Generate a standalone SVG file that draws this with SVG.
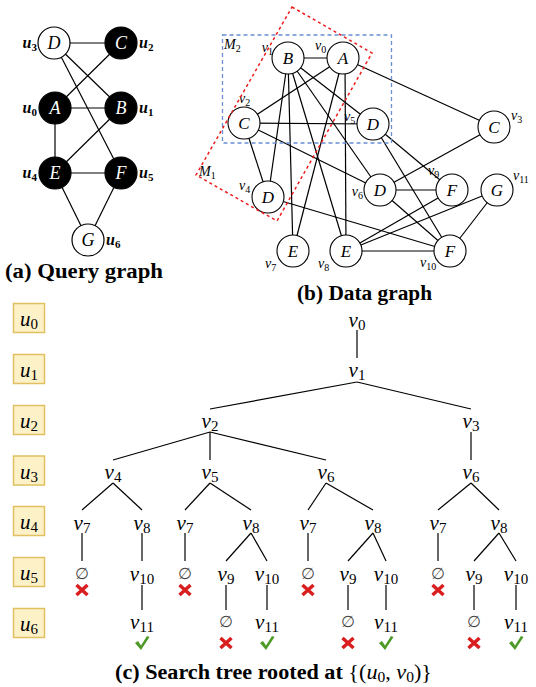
<svg xmlns="http://www.w3.org/2000/svg" width="536" height="687" viewBox="0 0 536 687">
<style>
.bg{fill:#fff}
.e{stroke:#000;stroke-width:1.2;fill:none}
.qb{fill:#000;stroke:#000;stroke-width:1.2}
.qw{fill:#fff;stroke:#000;stroke-width:1.2}
.dn{fill:#fff;stroke:#000;stroke-width:1.1}
.m{font-family:"Liberation Serif","Times New Roman",serif;font-style:italic}
.nl{font-size:18px;text-anchor:middle}
.ql{font-size:16px;font-weight:bold}
.dl{font-size:17px;text-anchor:middle}
.vl{font-size:14px}
.tl{font-size:21px;text-anchor:middle}
.bl{font-size:21px;text-anchor:middle}
.s{font-style:normal}
.cap{font-family:"Liberation Serif","Times New Roman",serif;font-weight:bold;font-size:20px}
.box{fill:#fdf1c8;stroke:#e1c062;stroke-width:1.5}
.emp{font-family:"DejaVu Serif","DejaVu Sans",serif;font-size:16px;text-anchor:middle;fill:#444}
.x{stroke:#d81e1e;stroke-width:3.5;fill:none}
.ck{fill:#4e9a26}
</style>
<defs>
<g id="xm"><path class="x" d="M-5.5,-5 L5.5,5 M-5.5,5 L5.5,-5"/></g>
<path id="ckm" class="ck" d="M-7,0 L-4,-2 L-1,2.5 L5,-7 L7.5,-6 L-1,7 Z"/>
</defs>
<rect class="bg" x="0" y="0" width="536" height="687"/>

<!-- ===== (a) Query graph ===== -->
<g id="query-edges">
<line class="e" x1="54" y1="43" x2="121" y2="43"/>
<line class="e" x1="54" y1="43" x2="121" y2="108"/>
<line class="e" x1="54" y1="43" x2="121" y2="173"/>
<line class="e" x1="121" y1="43" x2="55" y2="108"/>
<line class="e" x1="55" y1="108" x2="121" y2="108"/>
<line class="e" x1="55" y1="108" x2="55" y2="173"/>
<line class="e" x1="121" y1="108" x2="55" y2="173"/>
<line class="e" x1="55" y1="173" x2="121" y2="173"/>
<line class="e" x1="55" y1="173" x2="88" y2="240"/>
<line class="e" x1="121" y1="173" x2="88" y2="240"/>
</g>
<g id="q-u3"><circle class="qw" cx="54" cy="43" r="16"/><text class="m nl" x="54" y="49">D</text><text class="m ql" x="37" y="48" text-anchor="end">u<tspan class="s" font-size="11" dy="3">3</tspan></text></g>
<g id="q-u2"><circle class="qb" cx="121" cy="43" r="16"/><text class="m nl" x="121" y="49" fill="#fff">C</text><text class="m ql" x="139" y="48">u<tspan class="s" font-size="11" dy="3">2</tspan></text></g>
<g id="q-u0"><circle class="qb" cx="55" cy="108" r="16"/><text class="m nl" x="55" y="114" fill="#fff">A</text><text class="m ql" x="37" y="113" text-anchor="end">u<tspan class="s" font-size="11" dy="3">0</tspan></text></g>
<g id="q-u1"><circle class="qb" cx="121" cy="108" r="16"/><text class="m nl" x="121" y="114" fill="#fff">B</text><text class="m ql" x="139" y="113">u<tspan class="s" font-size="11" dy="3">1</tspan></text></g>
<g id="q-u4"><circle class="qb" cx="55" cy="173" r="16"/><text class="m nl" x="55" y="179" fill="#fff">E</text><text class="m ql" x="37" y="178" text-anchor="end">u<tspan class="s" font-size="11" dy="3">4</tspan></text></g>
<g id="q-u5"><circle class="qb" cx="121" cy="173" r="16"/><text class="m nl" x="121" y="179" fill="#fff">F</text><text class="m ql" x="139" y="178">u<tspan class="s" font-size="11" dy="3">5</tspan></text></g>
<g id="q-u6"><circle class="qw" cx="88" cy="240" r="16"/><text class="m nl" x="88" y="246">G</text><text class="m ql" x="106" y="245">u<tspan class="s" font-size="11" dy="3">6</tspan></text></g>
<text class="cap" x="5" y="278" textLength="158" lengthAdjust="spacingAndGlyphs">(a) Query graph</text>

<!-- ===== (b) Data graph ===== -->
<g id="data-edges">
<line class="e" x1="343" y1="58" x2="288" y2="58"/>
<line class="e" x1="343" y1="58" x2="244" y2="123"/>
<line class="e" x1="343" y1="58" x2="494" y2="127"/>
<line class="e" x1="343" y1="58" x2="293" y2="251"/>
<line class="e" x1="345" y1="58" x2="346" y2="251"/>
<line class="e" x1="288" y1="58" x2="268" y2="197"/>
<line class="e" x1="288" y1="58" x2="373" y2="124"/>
<line class="e" x1="288" y1="58" x2="380" y2="190"/>
<line class="e" x1="288" y1="58" x2="293" y2="251"/>
<line class="e" x1="288" y1="58" x2="346" y2="251"/>
<line class="e" x1="244" y1="123" x2="268" y2="197"/>
<line class="e" x1="244" y1="123" x2="373" y2="124"/>
<line class="e" x1="244" y1="123" x2="380" y2="190"/>
<line class="e" x1="494" y1="127" x2="380" y2="190"/>
<line class="e" x1="268" y1="197" x2="450" y2="251"/>
<line class="e" x1="373" y1="124" x2="452" y2="190"/>
<line class="e" x1="373" y1="124" x2="450" y2="251"/>
<line class="e" x1="380" y1="190" x2="452" y2="190"/>
<line class="e" x1="380" y1="190" x2="450" y2="251"/>
<line class="e" x1="346" y1="251" x2="452" y2="190"/>
<line class="e" x1="346" y1="251" x2="450" y2="251"/>
<line class="e" x1="346" y1="251" x2="497" y2="190"/>
<line class="e" x1="450" y1="251" x2="497" y2="190"/>
</g>
<g id="d-v1"><circle class="dn" cx="288" cy="58" r="16"/><text class="m dl" x="288" y="64">B</text><text class="m vl" x="273" y="52" text-anchor="end">v<tspan class="s" font-size="10" dy="3">1</tspan></text></g>
<g id="d-v0"><circle class="dn" cx="343" cy="58" r="16"/><text class="m dl" x="343" y="64">A</text><text class="m vl" x="315" y="50">v<tspan class="s" font-size="10" dy="3">0</tspan></text></g>
<g id="d-v2"><circle class="dn" cx="244" cy="123" r="16"/><text class="m dl" x="244" y="129">C</text><text class="m vl" x="239" y="103">v<tspan class="s" font-size="10" dy="3">2</tspan></text></g>
<g id="d-v5"><circle class="dn" cx="373" cy="124" r="16"/><text class="m dl" x="373" y="130">D</text><text class="m vl" x="344" y="121">v<tspan class="s" font-size="10" dy="3">5</tspan></text></g>
<g id="d-v3"><circle class="dn" cx="494" cy="127" r="16"/><text class="m dl" x="494" y="133">C</text><text class="m vl" x="511" y="120">v<tspan class="s" font-size="10" dy="3">3</tspan></text></g>
<g id="d-v4"><circle class="dn" cx="268" cy="197" r="16"/><text class="m dl" x="268" y="203">D</text><text class="m vl" x="239" y="190">v<tspan class="s" font-size="10" dy="3">4</tspan></text></g>
<g id="d-v6"><circle class="dn" cx="380" cy="190" r="16"/><text class="m dl" x="380" y="196">D</text><text class="m vl" x="363" y="196" text-anchor="end">v<tspan class="s" font-size="10" dy="3">6</tspan></text></g>
<g id="d-v9"><circle class="dn" cx="452" cy="190" r="16"/><text class="m dl" x="452" y="196">F</text><text class="m vl" x="428" y="175">v<tspan class="s" font-size="10" dy="3">9</tspan></text></g>
<g id="d-v11"><circle class="dn" cx="497" cy="190" r="16"/><text class="m dl" x="497" y="196">G</text><text class="m vl" x="513" y="180">v<tspan class="s" font-size="10" dy="3">11</tspan></text></g>
<g id="d-v7"><circle class="dn" cx="293" cy="251" r="16"/><text class="m dl" x="293" y="257">E</text><text class="m vl" x="265" y="268">v<tspan class="s" font-size="10" dy="3">7</tspan></text></g>
<g id="d-v8"><circle class="dn" cx="346" cy="251" r="16"/><text class="m dl" x="346" y="257">E</text><text class="m vl" x="318" y="268">v<tspan class="s" font-size="10" dy="3">8</tspan></text></g>
<g id="d-v10"><circle class="dn" cx="450" cy="251" r="16"/><text class="m dl" x="450" y="257">F</text><text class="m vl" x="420" y="267">v<tspan class="s" font-size="10" dy="3">10</tspan></text></g>
<g id="match-M2"><rect x="222.5" y="35" width="169" height="108" fill="none" stroke="#6a8fd2" stroke-width="1.3" stroke-dasharray="4,3"/><text class="m vl" x="224" y="49">M<tspan class="s" font-size="10" dy="3">2</tspan></text></g>
<g id="match-M1"><polygon points="292,7 372,53 277,221 196,175" fill="none" stroke="#ee1c1c" stroke-width="1.5" stroke-dasharray="3,3"/><text class="m vl" x="199" y="176">M<tspan class="s" font-size="10" dy="3">1</tspan></text></g>
<text class="cap" x="297" y="300" textLength="135" lengthAdjust="spacingAndGlyphs">(b) Data graph</text>

<!-- ===== (c) Search tree ===== -->
<g id="levels">
<g id="lv-u0"><rect class="box" x="13.5" y="303.5" width="31" height="29"/><text class="m bl" x="29" y="326">u<tspan class="s" font-size="15" dy="3">0</tspan></text></g>
<g id="lv-u1"><rect class="box" x="13.5" y="354.5" width="31" height="29"/><text class="m bl" x="29" y="377">u<tspan class="s" font-size="15" dy="3">1</tspan></text></g>
<g id="lv-u2"><rect class="box" x="13.5" y="405.5" width="31" height="29"/><text class="m bl" x="29" y="428">u<tspan class="s" font-size="15" dy="3">2</tspan></text></g>
<g id="lv-u3"><rect class="box" x="13.5" y="456" width="31" height="29"/><text class="m bl" x="29" y="478.5">u<tspan class="s" font-size="15" dy="3">3</tspan></text></g>
<g id="lv-u4"><rect class="box" x="13.5" y="506.5" width="31" height="29"/><text class="m bl" x="29" y="529">u<tspan class="s" font-size="15" dy="3">4</tspan></text></g>
<g id="lv-u5"><rect class="box" x="13.5" y="557.5" width="31" height="29"/><text class="m bl" x="29" y="580">u<tspan class="s" font-size="15" dy="3">5</tspan></text></g>
<g id="lv-u6"><rect class="box" x="13.5" y="608.5" width="31" height="29"/><text class="m bl" x="29" y="631">u<tspan class="s" font-size="15" dy="3">6</tspan></text></g>
</g>

<g id="tree-edges">
<line class="e" x1="357" y1="330" x2="357" y2="358"/>
<line class="e" x1="357" y1="382" x2="210" y2="409"/>
<line class="e" x1="357" y1="382" x2="471" y2="409"/>
<line class="e" x1="210" y1="432" x2="113" y2="460"/>
<line class="e" x1="210" y1="432" x2="210" y2="460"/>
<line class="e" x1="210" y1="432" x2="326" y2="460"/>
<line class="e" x1="471" y1="432" x2="471" y2="460"/>
<line class="e" x1="113" y1="483" x2="82" y2="510"/>
<line class="e" x1="113" y1="483" x2="142" y2="510"/>
<line class="e" x1="210" y1="483" x2="185" y2="510"/>
<line class="e" x1="210" y1="483" x2="251" y2="510"/>
<line class="e" x1="326" y1="483" x2="308" y2="510"/>
<line class="e" x1="326" y1="483" x2="373" y2="510"/>
<line class="e" x1="471" y1="483" x2="438" y2="510"/>
<line class="e" x1="471" y1="483" x2="499" y2="510"/>
<line class="e" x1="82" y1="533" x2="82" y2="561"/>
<line class="e" x1="142" y1="533" x2="142" y2="561"/>
<line class="e" x1="185" y1="533" x2="185" y2="561"/>
<line class="e" x1="251" y1="533" x2="226" y2="561"/>
<line class="e" x1="251" y1="533" x2="267" y2="561"/>
<line class="e" x1="308" y1="533" x2="308" y2="561"/>
<line class="e" x1="373" y1="533" x2="348" y2="561"/>
<line class="e" x1="373" y1="533" x2="386" y2="561"/>
<line class="e" x1="438" y1="533" x2="438" y2="561"/>
<line class="e" x1="499" y1="533" x2="474" y2="561"/>
<line class="e" x1="499" y1="533" x2="516" y2="561"/>
<line class="e" x1="142" y1="585" x2="142" y2="610"/>
<line class="e" x1="226" y1="585" x2="226" y2="610"/>
<line class="e" x1="267" y1="585" x2="267" y2="610"/>
<line class="e" x1="348" y1="585" x2="348" y2="610"/>
<line class="e" x1="386" y1="585" x2="386" y2="610"/>
<line class="e" x1="474" y1="585" x2="474" y2="610"/>
<line class="e" x1="516" y1="585" x2="516" y2="610"/>
</g>

<g id="tree-nodes">
<g id="t-v0"><text class="m tl" x="357" y="327">v<tspan class="s" font-size="15" dy="3">0</tspan></text></g>
<g id="t-v1"><text class="m tl" x="357" y="377">v<tspan class="s" font-size="15" dy="3">1</tspan></text></g>
<g id="t-v2"><text class="m tl" x="210" y="428">v<tspan class="s" font-size="15" dy="3">2</tspan></text></g>
<g id="t-v3"><text class="m tl" x="471" y="428">v<tspan class="s" font-size="15" dy="3">3</tspan></text></g>
<g id="t-v4"><text class="m tl" x="113" y="479">v<tspan class="s" font-size="15" dy="3">4</tspan></text></g>
<g id="t-v5"><text class="m tl" x="210" y="479">v<tspan class="s" font-size="15" dy="3">5</tspan></text></g>
<g id="t-v6a"><text class="m tl" x="326" y="479">v<tspan class="s" font-size="15" dy="3">6</tspan></text></g>
<g id="t-v6b"><text class="m tl" x="471" y="479">v<tspan class="s" font-size="15" dy="3">6</tspan></text></g>
<g id="t-v7a"><text class="m tl" x="82" y="530">v<tspan class="s" font-size="15" dy="3">7</tspan></text></g>
<g id="t-v8a"><text class="m tl" x="142" y="530">v<tspan class="s" font-size="15" dy="3">8</tspan></text></g>
<g id="t-v7b"><text class="m tl" x="185" y="530">v<tspan class="s" font-size="15" dy="3">7</tspan></text></g>
<g id="t-v8b"><text class="m tl" x="251" y="530">v<tspan class="s" font-size="15" dy="3">8</tspan></text></g>
<g id="t-v7c"><text class="m tl" x="308" y="530">v<tspan class="s" font-size="15" dy="3">7</tspan></text></g>
<g id="t-v8c"><text class="m tl" x="373" y="530">v<tspan class="s" font-size="15" dy="3">8</tspan></text></g>
<g id="t-v7d"><text class="m tl" x="438" y="530">v<tspan class="s" font-size="15" dy="3">7</tspan></text></g>
<g id="t-v8d"><text class="m tl" x="499" y="530">v<tspan class="s" font-size="15" dy="3">8</tspan></text></g>

<g id="t-e5a"><text class="emp" x="82" y="579">∅</text><use href="#xm" x="82" y="590"/></g>
<g id="t-v10a"><text class="m tl" x="142" y="581">v<tspan class="s" font-size="15" dy="3">10</tspan></text></g>
<g id="t-e5b"><text class="emp" x="185" y="579">∅</text><use href="#xm" x="185" y="590"/></g>
<g id="t-v9b"><text class="m tl" x="226" y="581">v<tspan class="s" font-size="15" dy="3">9</tspan></text></g>
<g id="t-v10b"><text class="m tl" x="267" y="581">v<tspan class="s" font-size="15" dy="3">10</tspan></text></g>
<g id="t-e5c"><text class="emp" x="308" y="579">∅</text><use href="#xm" x="308" y="590"/></g>
<g id="t-v9c"><text class="m tl" x="348" y="581">v<tspan class="s" font-size="15" dy="3">9</tspan></text></g>
<g id="t-v10c"><text class="m tl" x="386" y="581">v<tspan class="s" font-size="15" dy="3">10</tspan></text></g>
<g id="t-e5d"><text class="emp" x="438" y="579">∅</text><use href="#xm" x="438" y="590"/></g>
<g id="t-v9d"><text class="m tl" x="474" y="581">v<tspan class="s" font-size="15" dy="3">9</tspan></text></g>
<g id="t-v10d"><text class="m tl" x="516" y="581">v<tspan class="s" font-size="15" dy="3">10</tspan></text></g>

<g id="t-v11a"><text class="m tl" x="142" y="629">v<tspan class="s" font-size="15" dy="3">11</tspan></text><use href="#ckm" x="142" y="643"/></g>
<g id="t-e6b"><text class="emp" x="226" y="627">∅</text><use href="#xm" x="226" y="643"/></g>
<g id="t-v11b"><text class="m tl" x="267" y="629">v<tspan class="s" font-size="15" dy="3">11</tspan></text><use href="#ckm" x="267" y="643"/></g>
<g id="t-e6c"><text class="emp" x="348" y="627">∅</text><use href="#xm" x="348" y="643"/></g>
<g id="t-v11c"><text class="m tl" x="386" y="629">v<tspan class="s" font-size="15" dy="3">11</tspan></text><use href="#ckm" x="386" y="643"/></g>
<g id="t-e6d"><text class="emp" x="474" y="627">∅</text><use href="#xm" x="474" y="643"/></g>
<g id="t-v11d"><text class="m tl" x="516" y="629">v<tspan class="s" font-size="15" dy="3">11</tspan></text><use href="#ckm" x="516" y="643"/></g>
</g>

<text class="cap" x="115" y="679" textLength="317" lengthAdjust="spacingAndGlyphs">(c) Search tree rooted at <tspan font-weight="normal">{(</tspan><tspan font-weight="normal" font-style="italic">u</tspan><tspan font-weight="normal" font-size="14" dy="3">0</tspan><tspan font-weight="normal" dy="-3">, </tspan><tspan font-weight="normal" font-style="italic">v</tspan><tspan font-weight="normal" font-size="14" dy="3">0</tspan><tspan font-weight="normal" dy="-3">)}</tspan></text>
</svg>
